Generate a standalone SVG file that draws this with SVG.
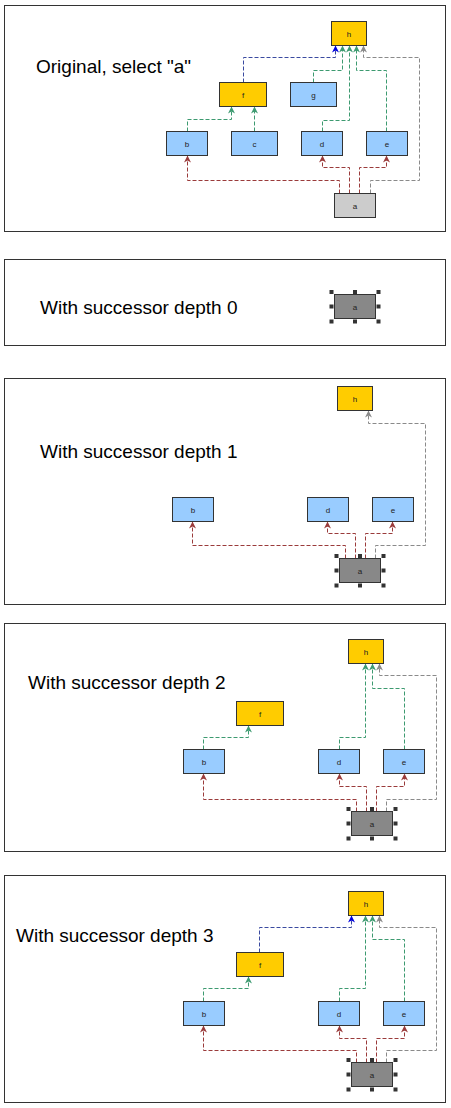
<svg xmlns="http://www.w3.org/2000/svg" width="451" height="1108" viewBox="0 0 451 1108">
<style>
.panel{fill:#fff;stroke:#333;stroke-width:1}
.title{font-family:"Liberation Sans",Arial,sans-serif;font-size:19px;fill:#000}
.n rect{stroke:#333;stroke-width:1}
.n text{font-family:"Liberation Sans",Arial,sans-serif;font-size:8px;fill:#222;text-anchor:middle}
.y rect{fill:#ffcc00}
.b rect{fill:#99ccff}
.g rect{fill:#cccccc}
.s rect{fill:#888888}
.n rect.hd{fill:#333;stroke:none}
.c{fill:none;stroke-width:1;stroke-dasharray:4 2}
.red{stroke:#9a3b3b;marker-end:url(#mr)}
.grn{stroke:#3d9a70;marker-end:url(#mg)}
.blu{stroke:#3a4aa0;marker-end:url(#mb)}
.gry{stroke:#8a8a8a;marker-end:url(#mx)}
</style>
<defs>
<marker id="mr" viewBox="-8 -4 9 8" refX="0" refY="0" markerWidth="9" markerHeight="8" markerUnits="userSpaceOnUse" orient="auto"><path d="M0,0 L-7,-3.5 L-5,0 L-7,3.5 Z" fill="#9a3b3b"/></marker>
<marker id="mg" viewBox="-8 -4 9 8" refX="0" refY="0" markerWidth="9" markerHeight="8" markerUnits="userSpaceOnUse" orient="auto"><path d="M0,0 L-7,-3.5 L-5,0 L-7,3.5 Z" fill="#3d9a70"/></marker>
<marker id="mb" viewBox="-8 -4 9 8" refX="0" refY="0" markerWidth="9" markerHeight="8" markerUnits="userSpaceOnUse" orient="auto"><path d="M0,0 L-7,-3.5 L-5,0 L-7,3.5 Z" fill="#0000dd"/></marker>
<marker id="mx" viewBox="-8 -4 9 8" refX="0" refY="0" markerWidth="9" markerHeight="8" markerUnits="userSpaceOnUse" orient="auto"><path d="M0,0 L-7,-3.5 L-5,0 L-7,3.5 Z" fill="#8a8a8a"/></marker>
</defs>
<rect width="451" height="1108" fill="#fff"/>

<!-- Panel 1 -->
<rect class="panel" x="4.5" y="5.5" width="441" height="226"/>
<text class="title" x="36" y="73">Original, select "a"</text>
<g id="p1-connectors">
<path class="c red" d="M339.5,193.5 V180.5 H187.5 V155.5"/>
<path class="c red" d="M349.5,193.5 V167.5 H322.5 V155.5"/>
<path class="c red" d="M359.5,193.5 V167.5 H386.5 V155.5"/>
<path class="c gry" d="M370.5,193.5 V180.5 H419.5 V57.5 H363.5 V45.5"/>
<path class="c blu" d="M243.5,82.5 V57.5 H335.5 V45.5"/>
<path class="c grn" d="M313.5,82.5 V70.5 H342.5 V45.5"/>
<path class="c grn" d="M322.5,131.5 V120.5 H349.5 V45.5"/>
<path class="c grn" d="M386.5,131.5 V70.5 H356.5 V45.5"/>
<path class="c grn" d="M187.5,131.5 V119.5 H231.5 V106.5"/>
<path class="c grn" d="M254.5,131.5 V106.5"/>
</g>
<g id="p1-h" class="n y"><rect x="331.5" y="21.5" width="35" height="24"/><text x="349" y="36.5">h</text></g>
<g id="p1-f" class="n y"><rect x="219.5" y="82.5" width="47" height="24"/><text x="243" y="97.5">f</text></g>
<g id="p1-g" class="n b"><rect x="290.5" y="82.5" width="46" height="24"/><text x="313.5" y="97.5">g</text></g>
<g id="p1-b" class="n b"><rect x="166.5" y="131.5" width="41" height="24"/><text x="187" y="146.5">b</text></g>
<g id="p1-c" class="n b"><rect x="231.5" y="131.5" width="46" height="24"/><text x="254.5" y="146.5">c</text></g>
<g id="p1-d" class="n b"><rect x="301.5" y="131.5" width="41" height="24"/><text x="322" y="146.5">d</text></g>
<g id="p1-e" class="n b"><rect x="366.5" y="131.5" width="41" height="24"/><text x="387" y="146.5">e</text></g>
<g id="p1-a" class="n g"><rect x="334.5" y="193.5" width="41" height="24"/><text x="355" y="208.5">a</text></g>

<!-- Panel 2 -->
<rect class="panel" x="4.5" y="259.5" width="441" height="86"/>
<text class="title" x="40" y="314">With successor depth 0</text>
<g id="p2-a" class="n s"><rect x="334.5" y="294.5" width="41" height="24"/><text x="355" y="309.5">a</text>
<rect class="hd" x="329.5" y="290" width="4" height="4"/><rect class="hd" x="353" y="290" width="4" height="4"/><rect class="hd" x="376.5" y="290" width="4" height="4"/>
<rect class="hd" x="329.5" y="304.5" width="4" height="4"/><rect class="hd" x="376.5" y="304.5" width="4" height="4"/>
<rect class="hd" x="329.5" y="319.5" width="4" height="4"/><rect class="hd" x="353" y="319.5" width="4" height="4"/><rect class="hd" x="376.5" y="319.5" width="4" height="4"/></g>

<!-- Panel 3 -->
<rect class="panel" x="4.5" y="378.5" width="441" height="226"/>
<text class="title" x="40" y="458">With successor depth 1</text>
<g id="p3-connectors">
<path class="c red" d="M345.5,558.5 V545.5 H192.5 V521.5"/>
<path class="c red" d="M355.5,558.5 V533.5 H327.5 V521.5"/>
<path class="c red" d="M365.5,558.5 V533.5 H392.5 V521.5"/>
<path class="c gry" d="M375.5,558.5 V545.5 H425.5 V423.5 H368.5 V410.5"/>
</g>
<g id="p3-h" class="n y"><rect x="337.5" y="386.5" width="35" height="24"/><text x="355" y="401.5">h</text></g>
<g id="p3-b" class="n b"><rect x="172.5" y="497.5" width="41" height="24"/><text x="193" y="512.5">b</text></g>
<g id="p3-d" class="n b"><rect x="307.5" y="497.5" width="41" height="24"/><text x="328" y="512.5">d</text></g>
<g id="p3-e" class="n b"><rect x="372.5" y="497.5" width="41" height="24"/><text x="393" y="512.5">e</text></g>
<g id="p3-a" class="n s"><rect x="339.5" y="558.5" width="41" height="24"/><text x="360" y="573.5">a</text>
<rect class="hd" x="334.5" y="554" width="4" height="4"/><rect class="hd" x="358" y="554" width="4" height="4"/><rect class="hd" x="381.5" y="554" width="4" height="4"/>
<rect class="hd" x="334.5" y="568.5" width="4" height="4"/><rect class="hd" x="381.5" y="568.5" width="4" height="4"/>
<rect class="hd" x="334.5" y="583.5" width="4" height="4"/><rect class="hd" x="358" y="583.5" width="4" height="4"/><rect class="hd" x="381.5" y="583.5" width="4" height="4"/></g>

<!-- Panel 4 -->
<rect class="panel" x="4.5" y="623.5" width="441" height="228"/>
<text class="title" x="28" y="689">With successor depth 2</text>
<g id="p4-connectors">
<path class="c red" d="M356.5,811.5 V799.5 H203.5 V773.5"/>
<path class="c red" d="M366.5,811.5 V786.5 H339.5 V773.5"/>
<path class="c red" d="M376.5,811.5 V786.5 H404.5 V773.5"/>
<path class="c gry" d="M386.5,811.5 V799.5 H436.5 V675.5 H379.5 V663.5"/>
<path class="c grn" d="M203.5,749.5 V737.5 H248.5 V725.5"/>
<path class="c grn" d="M339.5,749.5 V737.5 H365.5 V663.5"/>
<path class="c grn" d="M404.5,749.5 V688.5 H372.5 V663.5"/>
</g>
<g id="p4-h" class="n y"><rect x="348.5" y="639.5" width="35" height="24"/><text x="366" y="654.5">h</text></g>
<g id="p4-f" class="n y"><rect x="236.5" y="701.5" width="47" height="24"/><text x="260" y="716.5">f</text></g>
<g id="p4-b" class="n b"><rect x="183.5" y="749.5" width="41" height="24"/><text x="204" y="764.5">b</text></g>
<g id="p4-d" class="n b"><rect x="318.5" y="749.5" width="41" height="24"/><text x="339" y="764.5">d</text></g>
<g id="p4-e" class="n b"><rect x="383.5" y="749.5" width="41" height="24"/><text x="404" y="764.5">e</text></g>
<g id="p4-a" class="n s"><rect x="351.5" y="811.5" width="41" height="24"/><text x="372" y="826.5">a</text>
<rect class="hd" x="346.5" y="807" width="4" height="4"/><rect class="hd" x="370" y="807" width="4" height="4"/><rect class="hd" x="393.5" y="807" width="4" height="4"/>
<rect class="hd" x="346.5" y="821.5" width="4" height="4"/><rect class="hd" x="393.5" y="821.5" width="4" height="4"/>
<rect class="hd" x="346.5" y="836.5" width="4" height="4"/><rect class="hd" x="370" y="836.5" width="4" height="4"/><rect class="hd" x="393.5" y="836.5" width="4" height="4"/></g>

<!-- Panel 5 -->
<rect class="panel" x="4.5" y="875.5" width="441" height="227"/>
<text class="title" x="16" y="942">With successor depth 3</text>
<g id="p5-connectors">
<path class="c red" d="M356.5,1062.5 V1050.5 H203.5 V1025.5"/>
<path class="c red" d="M366.5,1062.5 V1038.5 H339.5 V1025.5"/>
<path class="c red" d="M376.5,1062.5 V1038.5 H404.5 V1025.5"/>
<path class="c gry" d="M386.5,1062.5 V1050.5 H436.5 V927.5 H379.5 V915.5"/>
<path class="c blu" d="M259.5,952.5 V927.5 H351.5 V915.5"/>
<path class="c grn" d="M203.5,1001.5 V988.5 H248.5 V976.5"/>
<path class="c grn" d="M339.5,1001.5 V988.5 H365.5 V915.5"/>
<path class="c grn" d="M404.5,1001.5 V939.5 H372.5 V915.5"/>
</g>
<g id="p5-h" class="n y"><rect x="348.5" y="891.5" width="35" height="24"/><text x="366" y="906.5">h</text></g>
<g id="p5-f" class="n y"><rect x="236.5" y="952.5" width="47" height="24"/><text x="260" y="967.5">f</text></g>
<g id="p5-b" class="n b"><rect x="183.5" y="1001.5" width="41" height="24"/><text x="204" y="1016.5">b</text></g>
<g id="p5-d" class="n b"><rect x="318.5" y="1001.5" width="41" height="24"/><text x="339" y="1016.5">d</text></g>
<g id="p5-e" class="n b"><rect x="383.5" y="1001.5" width="41" height="24"/><text x="404" y="1016.5">e</text></g>
<g id="p5-a" class="n s"><rect x="351.5" y="1062.5" width="41" height="24"/><text x="372" y="1077.5">a</text>
<rect class="hd" x="346.5" y="1058" width="4" height="4"/><rect class="hd" x="370" y="1058" width="4" height="4"/><rect class="hd" x="393.5" y="1058" width="4" height="4"/>
<rect class="hd" x="346.5" y="1072.5" width="4" height="4"/><rect class="hd" x="393.5" y="1072.5" width="4" height="4"/>
<rect class="hd" x="346.5" y="1087.5" width="4" height="4"/><rect class="hd" x="370" y="1087.5" width="4" height="4"/><rect class="hd" x="393.5" y="1087.5" width="4" height="4"/></g>
</svg>
